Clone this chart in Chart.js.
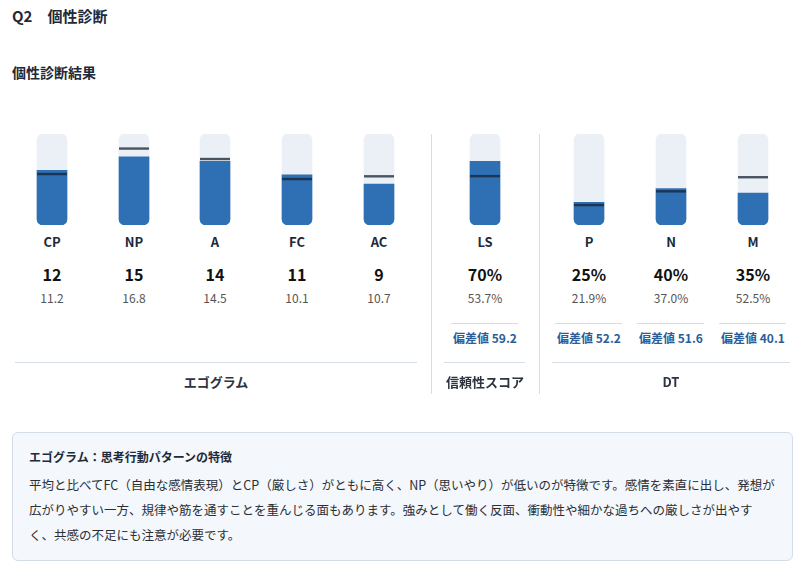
<!DOCTYPE html>
<html><head><meta charset="utf-8">
<script src="https://cdn.jsdelivr.net/npm/chart.js@4"></script>
<style>
body{margin:0;width:805px;height:568px;position:relative;font-family:"Noto Sans CJK JP","Noto Sans",sans-serif;color:#1e2a3a;background:#fff;overflow:hidden}
.a{position:absolute;white-space:nowrap}
.c{transform:translateX(-50%);text-align:center}
.lab{font-size:13px;font-weight:bold;color:#1e2a3a}
.val{font-size:16px;font-weight:bold;color:#111}
.avg{font-size:12px;color:#555}
.hs{font-size:12px;font-weight:bold;color:#2a5d99}
.hl{position:absolute;height:1px;background:#d5dde6}
.vl{position:absolute;width:1px;background:#d5dde6}
.grp{font-size:13px;font-weight:bold;color:#2c3440}
</style></head><body>
<div class="a" style="left:12px;top:5px;font-size:15px;font-weight:bold">Q2　個性診断</div>
<div class="a" style="left:12px;top:62px;font-size:14px;font-weight:bold">個性診断結果</div>
<div style="position:absolute;left:0;top:134px;width:805px;height:91px"><canvas id="c"></canvas></div>
<div id="txt"></div>
<div class="vl" style="left:431px;top:134px;height:260px"></div>
<div class="vl" style="left:539px;top:134px;height:260px"></div>
<div class="hl" style="left:15px;top:362px;width:402px"></div>
<div class="hl" style="left:444px;top:362px;width:81px"></div>
<div class="hl" style="left:552px;top:362px;width:238px"></div>
<div class="a c grp" style="left:216px;top:372px">エゴグラム</div>
<div class="a c grp" style="left:485px;top:372px">信頼性スコア</div>
<div class="a c grp" style="left:671px;top:372px">DT</div>
<div style="position:absolute;left:12px;top:432px;width:779px;height:127px;background:#f4f7fb;border:1px solid #d3dce7;border-radius:6px">
<div class="a" style="left:16px;top:15px;font-size:12px;font-weight:bold">エゴグラム：思考行動パターンの特徴</div>
<div style="position:absolute;left:16px;top:39px;width:748px;font-size:12.5px;line-height:25px;color:#2a2f36">平均と比べてFC（自由な感情表現）とCP（厳しさ）がともに高く、NP（思いやり）が低いのが特徴です。感情を素直に出し、発想が広がりやすい一方、規律や筋を通すことを重んじる面もあります。強みとして働く反面、衝動性や細かな過ちへの厳しさが出やすく、共感の不足にも注意が必要です。</div>
</div>
<script>
const categories=["CP","NP","A","FC","AC","LS","P","N","M"];
const xPos=[52,134,215,297,379,485,589,671,753];
const values=[12,15,14,11,9,70,25,40,35];
const averages=[11.2,16.8,14.5,10.1,10.7,53.7,21.9,37.0,52.5];
const valueLabels=["12","15","14","11","9","70%","25%","40%","35%"];
const avgLabels=["11.2","16.8","14.5","10.1","10.7","53.7%","21.9%","37.0%","52.5%"];
const hensachi=[null,null,null,null,null,59.2,52.2,51.6,40.1];
const isPct=[false,false,false,false,false,true,true,true,true];

let h="";
categories.forEach((c,i)=>{
  const x=xPos[i];
  h+=`<div class="a c lab" style="left:${x}px;top:232px">${c}</div>`;
  h+=`<div class="a c val" style="left:${x}px;top:262px">${valueLabels[i]}</div>`;
  h+=`<div class="a c avg" style="left:${x}px;top:289px">${avgLabels[i]}</div>`;
  if(hensachi[i]!=null){
    h+=`<div class="hl" style="left:${x-34}px;top:323px;width:67px"></div>`;
    h+=`<div class="a c hs" style="left:${x}px;top:329px">偏差値 ${hensachi[i].toFixed(1)}</div>`;
  }
});
document.getElementById("txt").innerHTML=h;

const pts=(arr,pctArr,want)=>arr.map((v,i)=>pctArr[i]===want?{x:xPos[i],y:v}:null).filter(p=>p);
const trackCnt=xPos.map((x,i)=>isPct[i]?null:{x,y:20}).filter(p=>p);
const trackPct=xPos.map((x,i)=>isPct[i]?{x,y:100}:null).filter(p=>p);
const base={barThickness:30,grouped:false,borderSkipped:false};
const avgLines={id:"avgLines",afterDatasetsDraw(ch){
  const ctx=ch.ctx;
  categories.forEach((c,i)=>{
    const sc=ch.scales[isPct[i]?"y2":"y"];
    const y=sc.getPixelForValue(averages[i]);
    const x=ch.scales.x.getPixelForValue(xPos[i]);
    ctx.save();ctx.fillStyle=averages[i]<=values[i]?"#1c3553":"#4a5360";
    ctx.fillRect(x-15,y-1.2,30,2.4);ctx.restore();
  });
}};
new Chart(document.getElementById("c"),{
  type:"bar",
  data:{datasets:[
    {...base,data:trackCnt,yAxisID:"y",backgroundColor:"#ebf0f7",borderRadius:6,order:2},
    {...base,data:trackPct,yAxisID:"y2",backgroundColor:"#ebf0f7",borderRadius:6,order:2},
    {...base,data:pts(values,isPct,false),yAxisID:"y",backgroundColor:"#2f6fb3",borderRadius:{topLeft:0,topRight:0,bottomLeft:6,bottomRight:6},order:1},
    {...base,data:pts(values,isPct,true),yAxisID:"y2",backgroundColor:"#2f6fb3",borderRadius:{topLeft:0,topRight:0,bottomLeft:6,bottomRight:6},order:1}
  ]},
  options:{responsive:true,maintainAspectRatio:false,animation:false,
    layout:{padding:0},
    plugins:{legend:{display:false},tooltip:{enabled:false}},
    scales:{
      x:{type:"linear",min:0,max:805,offset:false,display:false},
      y:{min:0,max:20,display:false},
      y2:{min:0,max:100,display:false}
    }},
  plugins:[avgLines]
});
</script>
</body></html>
